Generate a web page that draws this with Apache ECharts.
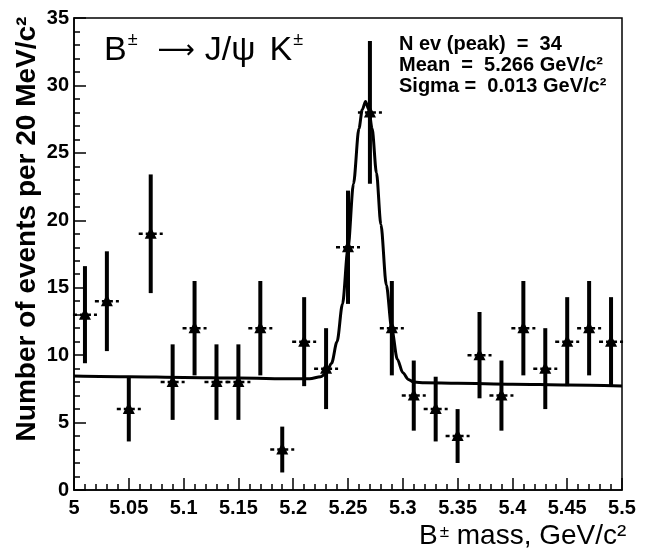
<!DOCTYPE html>
<html>
<head>
<meta charset="utf-8">
<script src="https://cdn.jsdelivr.net/npm/echarts@6/dist/echarts.min.js"></script>
<style>
  html, body { margin: 0; padding: 0; background: #fff; }
  #chart { width: 648px; height: 555px; }
</style>
</head>
<body>
<div id="chart"></div>
<script>
// bin centres (GeV/c^2), counts per 20 MeV bin and their errors
const massBins = [5.01, 5.03, 5.05, 5.07, 5.09, 5.11, 5.13, 5.15, 5.17, 5.19, 5.21, 5.23, 5.25,
                  5.27, 5.29, 5.31, 5.33, 5.35, 5.37, 5.39, 5.41, 5.43, 5.45, 5.47, 5.49];
const counts = [13, 14, 6, 19, 8, 12, 8, 8, 12, 3, 11, 9, 18, 28, 12, 7, 6, 4, 10, 7, 12, 9, 11, 12, 11];
const errors = [3.6, 3.7, 2.4, 4.4, 2.8, 3.5, 2.8, 2.8, 3.5, 1.7, 3.3, 3.0, 4.2,
                5.3, 3.5, 2.6, 2.4, 2.0, 3.2, 2.6, 3.5, 3.0, 3.3, 3.5, 3.3];

// fitted curve, points
const fitX = [5.0, 5.05, 5.1, 5.15, 5.2, 5.215, 5.225, 5.23, 5.235, 5.24, 5.245, 5.25, 5.255, 5.26,
              5.263, 5.266, 5.269, 5.272, 5.276, 5.28, 5.285, 5.29, 5.295, 5.3, 5.305, 5.31, 5.32,
              5.35, 5.4, 5.45, 5.5];
const fitY = [8.45, 8.4, 8.35, 8.3, 8.25, 8.25, 8.4, 8.65, 9.4, 11.0, 13.8, 17.9, 22.7, 26.8,
              28.2, 28.8, 28.2, 26.8, 23.5, 19.7, 15.2, 11.9, 9.7, 8.7, 8.2, 8.0, 7.95,
              7.92, 7.85, 7.78, 7.72];

const statLines = ['N ev (peak)  =  34', 'Mean  =  5.266 GeV/c\u00B2', 'Sigma =  0.013 GeV/c\u00B2'];

const FONT = 'Liberation Sans, Arial, sans-serif';

const chart = echarts.init(document.getElementById('chart'));

const points = massBins.map((x, i) => [x, counts[i], errors[i]]);
const fitLine = fitX.map((x, i) => [x, fitY[i]]);

function renderPoint(params, api) {
    const x = api.value(0);
    const y = api.value(1);
    const e = api.value(2);
    const c = api.coord([x, y]);
    const top = api.coord([x, y + e]);
    const bot = api.coord([x, y - e]);
    return {
        type: 'group',
        children: [
            {
                type: 'line',
                shape: { x1: c[0], y1: top[1], x2: c[0], y2: bot[1] },
                style: { stroke: '#000', lineWidth: 4 }
            },
            {
                type: 'line',
                shape: { x1: c[0] - 12, y1: c[1], x2: c[0] + 12, y2: c[1] },
                style: { stroke: '#000', lineWidth: 2.5, lineDash: [4, 3] }
            },
            {
                type: 'polygon',
                shape: { points: [[c[0], c[1] - 7], [c[0] - 6, c[1] + 5], [c[0] + 6, c[1] + 5]] },
                style: { fill: '#000' }
            }
        ]
    };
}

const graphics = [
    {
        type: 'text',
        left: 104,
        top: 31,
        style: {
            text: '{m|B}{s|\u00B1}{a|\u27F6}{m|J/\u03C8}{k|K}{s|\u00B1}',
            fill: '#000',
            rich: {
                m: { fontSize: 34, fontFamily: FONT, lineHeight: 40 },
                k: { fontSize: 34, fontFamily: FONT, lineHeight: 40, padding: [0, 0, 0, 14] },
                a: { fontSize: 26, fontFamily: 'DejaVu Sans', lineHeight: 40, padding: [0, 10, 0, 20] },
                s: { fontSize: 18, fontFamily: FONT, verticalAlign: 'top', lineHeight: 40, padding: [0, 0, 0, 1] }
            }
        }
    },
    {
        type: 'text',
        x: 27,
        y: 229,
        rotation: Math.PI / 2,
        style: {
            text: 'Number of events per 20 MeV/c\u00B2',
            font: 'bold 28px ' + FONT,
            fill: '#000',
            align: 'center',
            verticalAlign: 'middle'
        }
    },
    {
        type: 'text',
        left: 419,
        top: 521,
        style: {
            text: '{m|B}{s|\u00B1}{m| mass, GeV/c\u00B2}',
            fill: '#000',
            rich: {
                m: { fontSize: 28, fontFamily: FONT, lineHeight: 30 },
                s: { fontSize: 17, fontFamily: FONT, verticalAlign: 'top', lineHeight: 30, padding: [3, 0, 0, 2] }
            }
        }
    }
];
statLines.forEach((t, i) => {
    graphics.push({
        type: 'text',
        left: 399,
        top: 34 + i * 21,
        style: { text: t, font: 'bold 20px ' + FONT, fill: '#000' }
    });
});

const option = {
    animation: false,
    backgroundColor: '#fff',
    grid: {
        left: 74,
        right: 26,
        top: 18,
        bottom: 65,
        show: true,
        borderColor: '#000',
        borderWidth: 1.5,
        backgroundColor: 'transparent'
    },
    xAxis: {
        type: 'value',
        min: 5,
        max: 5.5,
        interval: 0.05,
        axisLine: { show: true, lineStyle: { color: '#000', width: 1.5 } },
        axisTick: { show: true, inside: true, length: 12, lineStyle: { color: '#000', width: 1.5 } },
        minorTick: { show: true, splitNumber: 5, length: 6, lineStyle: { color: '#000', width: 1.5 } },
        splitLine: { show: false },
        axisLabel: {
            color: '#000',
            fontSize: 20,
            fontWeight: 'bold',
            fontFamily: FONT,
            margin: 8,
            formatter: function (v) {
                return String(parseFloat(v.toFixed(2)));
            }
        }
    },
    yAxis: {
        type: 'value',
        min: 0,
        max: 35,
        interval: 5,
        axisLine: { show: true, lineStyle: { color: '#000', width: 1.5 } },
        axisTick: { show: true, inside: true, length: 12, lineStyle: { color: '#000', width: 1.5 } },
        minorTick: { show: true, splitNumber: 5, length: 6, lineStyle: { color: '#000', width: 1.5 } },
        splitLine: { show: false },
        axisLabel: {
            color: '#000',
            fontSize: 20,
            fontWeight: 'bold',
            fontFamily: FONT,
            margin: 5
        }
    },
    series: [
        {
            type: 'line',
            data: fitLine,
            smooth: 0.3,
            smoothMonotone: 'x',
            symbol: 'none',
            lineStyle: { color: '#000', width: 3 },
            z: 2
        },
        {
            type: 'custom',
            data: points,
            renderItem: renderPoint,
            z: 3
        }
    ],
    graphic: graphics
};

chart.setOption(option);
</script>
</body>
</html>
